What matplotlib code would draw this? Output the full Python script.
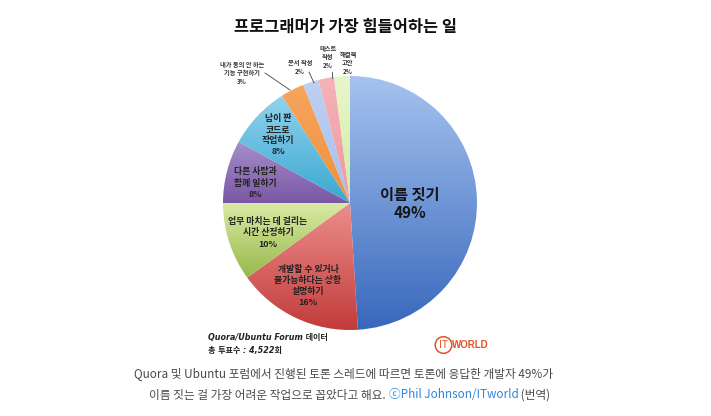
import matplotlib
matplotlib.use("Agg")
import matplotlib.pyplot as plt
import numpy as np
from matplotlib.colors import LinearSegmentedColormap
from matplotlib.patches import Circle

KR = ["Noto Sans CJK KR", "DejaVu Sans"]
plt.rcParams.update({"font.family": KR, "axes.unicode_minus": False})

# ---------- 데이터 ----------
labels = ["이름 짓기", "개발할 수 있거나\n불가능하다는 상황\n설명하기",
          "업무 마치는 데 걸리는\n시간 산정하기", "다른 사람과\n함께 일하기",
          "남이 짠\n코드로\n작업하기", "내가 동의 안 하는\n기능 구현하기",
          "문서 작성", "테스트\n작성", "해결책\n고안"]
values = [49, 16, 10, 8, 8, 3, 2, 2, 2]
top_colors = ["#A6C3EF", "#EC8E8C", "#D8EBA4", "#A68FCA", "#92D3EF",
              "#F6A65E", "#BED1F2", "#F5B3B8", "#E8F7CA"]
bot_colors = ["#3868BC", "#C13B3A", "#98B84B", "#7A57A5", "#39A7D0",
              "#EF8F3C", "#A5BEEB", "#EC98A0", "#D0EBA2"]

title = "프로그래머가 가장 힘들어하는 일"
source = "Quora/Ubuntu Forum 데이터\n총 투표수 : 4,522회"
cap1 = "Quora 및 Ubuntu 포럼에서 진행된 토론 스레드에 따르면 토론에 응답한 개발자 49%가"
cap2 = ["이름 짓는 걸 가장 어려운 작업으로 꼽았다고 해요. ", "ⓒPhil Johnson/ITworld", " (번역)"]

W, H = 711, 416
fig = plt.figure(figsize=(W / 100, H / 100), dpi=100)
fig.patch.set_facecolor("white")

# 파이 영역 (픽셀 기준 중심 350,203 / 반지름 127)
cx, cy, r = 350, 203, 127
pax = fig.add_axes([(cx - r) / W, (H - cy - r) / H, 2 * r / W, 2 * r / H])

wedges, _ = pax.pie(values, startangle=90, counterclock=False, radius=1,
                    colors=bot_colors, wedgeprops=dict(linewidth=0))

grad = np.linspace(1, 0, 256).reshape(-1, 1)
for w, c0, c1 in zip(wedges, top_colors, bot_colors):
    verts = w.get_path().vertices
    x0, x1 = verts[:, 0].min(), verts[:, 0].max()
    y0, y1 = verts[:, 1].min(), verts[:, 1].max()
    cmap = LinearSegmentedColormap.from_list("g", [c1, c0])
    im = pax.imshow(grad, cmap=cmap, extent=[x0, x1, y0, y1], origin="upper",
                    aspect="auto", zorder=2, interpolation="bilinear")
    im.set_clip_path(w)
    w.set_facecolor("none")

pax.set_xlim(-1, 1)
pax.set_ylim(-1, 1)
pax.set_aspect("equal")
pax.axis("off")

# 텍스트 오버레이 (픽셀 좌표)
ov = fig.add_axes([0, 0, 1, 1])
ov.set_xlim(0, W)
ov.set_ylim(H, 0)
ov.axis("off")
ov.patch.set_alpha(0)

INK = "#151515"
ov.text(346, 27, title, ha="center", va="center", fontsize=11.8,
        fontweight="heavy", color="#111")

# 내부 라벨
ov.text(410, 204, f"{labels[0]}\n{values[0]}%", ha="center", va="center",
        fontsize=11, fontweight="heavy", color=INK, linespacing=1.15)
inner = [(1, 308, 286), (2, 268, 233), (3, 255, 183), (4, 278, 135)]
for i, x, y in inner:
    ov.text(x, y, f"{labels[i]}\n{values[i]}%", ha="center", va="center",
            fontsize=6.4, fontweight="heavy", color="#222", linespacing=1.3)

# 외부 라벨
outer = [(5, 242, 73), (6, 300, 67), (7, 328, 57), (8, 348, 63)]
for i, x, y in outer:
    ov.text(x, y, f"{labels[i]}\n{values[i]}%", ha="center", va="center",
            fontsize=4.5, fontweight="bold", color="#333", linespacing=1.3)
ov.plot([265, 290], [73, 90], color="#444", lw=0.6)
ov.plot([309, 314], [72, 83], color="#444", lw=0.6)
ov.plot([332, 332], [72, 78], color="#444", lw=0.6)

# 출처
ov.text(208, 344, source, ha="left", va="center", fontsize=5.8,
        fontweight="bold", style="italic", color="#222", linespacing=1.45,
        family=["DejaVu Sans", "Noto Sans CJK KR"])

# ITWORLD 로고
LOGO = "#E2532B"
ov.add_patch(Circle((443.5, 345), 8.3, fill=False, ec=LOGO, lw=1.1))
ov.text(443.5, 345.5, "IT", ha="center", va="center", fontsize=7.5, color=LOGO,
        family="Liberation Sans")
ov.text(452, 345.5, "WORLD", ha="left", va="center", fontsize=7,
        fontweight="bold", color=LOGO, family="Liberation Sans")

# 캡션
ov.text(344, 374, cap1, ha="center", va="center", fontsize=8.45, color="#4A4A4A")
fig.canvas.draw()
rend = fig.canvas.get_renderer()
parts = []
for s, col in zip(cap2, ["#4A4A4A", "#2E86DE", "#4A4A4A"]):
    t = ov.text(0, 395, s, ha="left", va="center", fontsize=8.45, color=col)
    parts.append(t)
widths = [t.get_window_extent(rend).width for t in parts]
x = 350 - sum(widths) / 2
for t, wd in zip(parts, widths):
    t.set_x(x)
    x += wd

fig.savefig("out.png", dpi=100, facecolor="white")
